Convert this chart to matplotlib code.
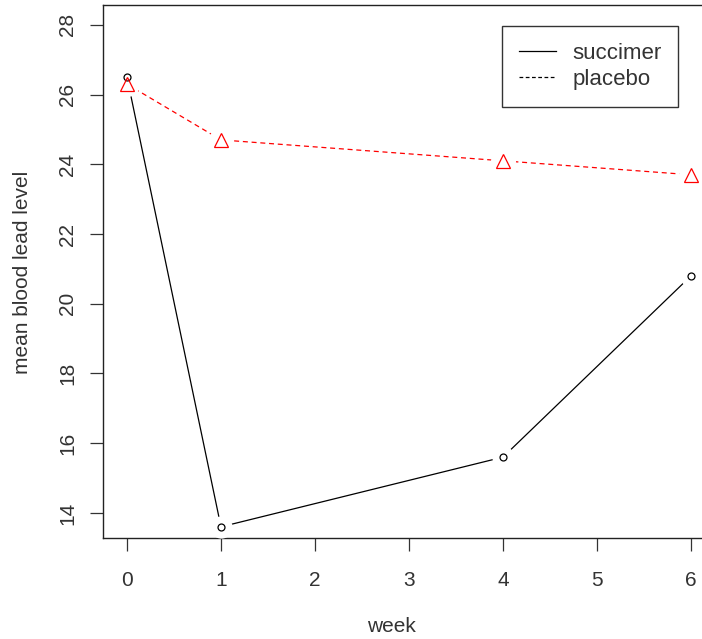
import numpy as np
import matplotlib
matplotlib.use('Agg')
import matplotlib.pyplot as plt
from matplotlib.lines import Line2D

# data
week = [0, 1, 4, 6]
succimer = [26.5, 13.6, 15.6, 20.8]
placebo = [26.3, 24.7, 24.1, 23.7]
xticks = [0, 1, 2, 3, 4, 5, 6]
yticks = [14, 16, 18, 20, 22, 24, 26, 28]

plt.rcParams['font.family'] = ['Liberation Sans', 'DejaVu Sans']
txt = '#333333'

fig = plt.figure(figsize=(7.02, 6.39), dpi=100)
W, H = 702, 639
ax = fig.add_axes([103 / W, (H - 538) / H, (W - 103) / W, (538 - 5) / H])

# type="b" style: line with gaps around the points
ax.plot(week, succimer, color='black', lw=0.9, zorder=2)
ax.plot(week, succimer, ls='none', marker='o', ms=15, mfc='white', mec='white', zorder=3)
ax.plot(week, succimer, ls='none', marker='o', ms=5, mfc='white', mec='black', mew=0.9, zorder=4)

ax.plot(week, placebo, color='red', lw=0.9, ls=(0, (4, 3)), zorder=2)
ax.plot(week, placebo, ls='none', marker='o', ms=17, mfc='white', mec='white', zorder=3)
ax.plot(week, placebo, ls='none', marker='^', ms=10, mfc='none', mec='red', mew=0.9, zorder=5)

ax.set_xlim(-0.255, 6.117)
ax.set_ylim(13.28, 28.57)
ax.set_xticks(xticks)
ax.set_yticks(yticks)
ax.tick_params(direction='out', length=9.4, width=0.9, labelsize=15, colors=txt)
ax.tick_params(axis='x', pad=14)
ax.tick_params(axis='y', pad=9)
for lab in ax.get_yticklabels():
    lab.set_rotation(90)
    lab.set_va('center')
ax.spines['right'].set_visible(False)
for s in ['left', 'bottom', 'top']:
    ax.spines[s].set_linewidth(1.0)
    ax.spines[s].set_color('#222222')

fig.text(391 / W, 1 - 626 / H, 'week', ha='center', va='center', fontsize=15, color=txt)
fig.text(23 / W, 1 - 272 / H, 'mean blood lead level', ha='center', va='center',
         rotation=90, fontsize=15, color=txt)

handles = [Line2D([], [], color='black', lw=0.9),
           Line2D([], [], color='black', lw=0.9, ls=(0, (3, 2)))]
leg = ax.legend(handles, ['succimer', 'placebo'], loc='upper left',
                bbox_to_anchor=((502 - 103) / (W - 103), 1 - (26 - 5) / (538 - 5)),
                frameon=True, fancybox=False, fontsize=16, handlelength=1.7,
                borderpad=0.75, labelspacing=0.25, handletextpad=0.72, borderaxespad=0)
leg.get_frame().set_edgecolor('black')
leg.get_frame().set_linewidth(1.0)
for t in leg.get_texts():
    t.set_color(txt)

fig.savefig('out.png', dpi=100)
